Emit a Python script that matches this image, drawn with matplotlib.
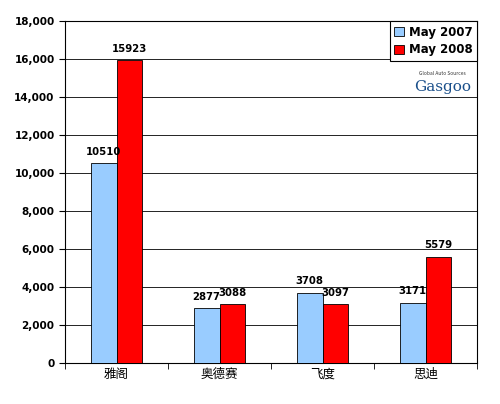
import matplotlib
matplotlib.use("Agg")
import matplotlib.pyplot as plt
import numpy as np

plt.rcParams['font.family'] = ['Noto Sans CJK SC', 'DejaVu Sans']

categories = ["雅阁", "奥德赛", "飞度", "思迪"]
may2007 = [10510, 2877, 3708, 3171]
may2008 = [15923, 3088, 3097, 5579]
yticks = list(range(0, 18001, 2000))

fig = plt.figure(figsize=(5.0, 4.04), dpi=100)
ax = fig.add_axes([65/500, 1-363/404, 412/500, 342/404])
x = np.arange(len(categories))
w = 0.25
b1 = ax.bar(x - w/2, may2007, w, color='#99ccff', edgecolor='black', linewidth=0.6, label='May 2007', zorder=3)
b2 = ax.bar(x + w/2, may2008, w, color='#ff0000', edgecolor='black', linewidth=0.6, label='May 2008', zorder=3)
for bars, vals in ((b1, may2007), (b2, may2008)):
    for r, v in zip(bars, vals):
        ax.text(r.get_x() + r.get_width()/2, v + 350, str(v), ha='center', va='bottom',
                fontsize=7.3, fontweight='bold', family='DejaVu Sans')
ax.set_ylim(0, 18000)
ax.set_xlim(-0.5, 3.5)
ax.set_yticks(yticks)
ax.set_yticklabels([f"{t:,}" for t in yticks], fontsize=7.5, fontweight='bold', family='DejaVu Sans')
ax.set_xticks(x)
ax.set_xticklabels(categories, fontsize=9)
ax.set_xticks([-0.5, 0.5, 1.5, 2.5, 3.5], minor=True)
ax.tick_params(axis='x', which='major', length=0)
ax.tick_params(axis='x', which='minor', length=4, direction='out')
ax.tick_params(axis='y', length=4, direction='out')
ax.yaxis.grid(True, color='black', linewidth=0.6, zorder=0)
for s in ax.spines.values():
    s.set_linewidth(0.8)
leg = ax.legend(loc='upper right', bbox_to_anchor=(1.0, 1.0), prop={'weight': 'bold', 'family': 'DejaVu Sans', 'size': 8.5},
                fancybox=False, edgecolor='black', framealpha=1, handlelength=0.8, handleheight=0.8,
                borderaxespad=0, handletextpad=0.4, labelspacing=0.4)
leg.get_frame().set_linewidth(0.8)
fig.text(0.885, 0.815, "Global Auto Sources", fontsize=3.5, color='#333333', ha='center')
fig.text(0.885, 0.775, "Gasgoo", fontsize=11, color='#1a4f8a', ha='center', family='DejaVu Serif')
fig.savefig("out.png", dpi=100)
